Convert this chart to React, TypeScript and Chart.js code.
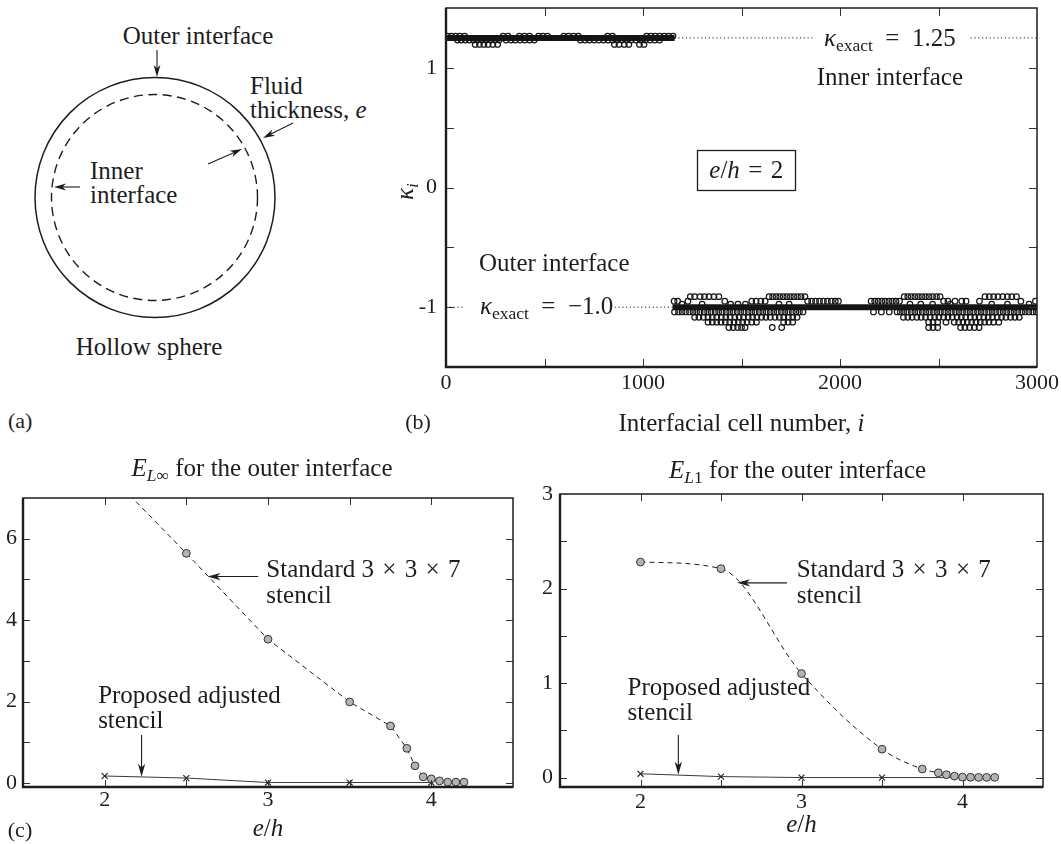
import React, { useEffect, useRef } from "react";
import { Chart, registerables } from "chart.js";

Chart.register(...registerables);

const SERIF = '"Liberation Serif", "Times New Roman", serif';
const INK = "#1d1d1d";
const TXT = 25;
const TICK = 22;

// ---------------- panel (b): curvature per interfacial cell ----------------
const bXTicks = [0, 500, 1000, 1500, 2000, 2500, 3000];
const bXLabels = ["0", "", "1000", "", "2000", "", "3000"];
const bYTicks = [-1, -0.5, 0, 0.5, 1];
const bYLabels = ["-1", "", "0", "", "1"];

const innerExact = 1.25;
const outerExact = -1.0;
const innerBandI = [0, 1160];
const outerBandI = [1150, 3000];
const innerRefSegs = [[1160, 1868], [2663, 3000]];
const outerRefSegs = [[0, 91], [856, 1150]];

const innerHighK = 1.265;
const innerHighI = [8, 28, 48, 70, 95, 290, 315, 372, 398, 424, 470, 492, 515, 598, 622, 648, 672, 820, 845, 1018, 1040, 1062, 1085, 1108, 1130, 1152];
const innerMidK = 1.232;
const innerMidI = [58, 78, 98, 118, 140, 160, 182, 204, 226, 248, 270, 305, 330, 352, 376, 400, 425, 448, 682, 705, 728, 752, 776, 800, 822, 846, 870, 893, 916, 940, 964, 988, 1012, 1036, 1060, 1084];
const innerLowK = 1.196;
const innerLowI = [148, 170, 192, 214, 238, 262, 855, 878, 905, 928, 982, 1005];

const outerTopK = -0.912;
const outerTopI = [1240, 1262, 1290, 1312, 1335, 1360, 1385, 1640, 1658, 1676, 1694, 1712, 1730, 1748, 1766, 1784, 1802, 1822, 2326, 2344, 2362, 2380, 2398, 2416, 2434, 2452, 2470, 2490, 2508, 2736, 2758, 2780, 2802, 2826, 2850, 2872, 2896];
const outerUpK = -0.95;
const outerUpI = [1158, 1176, 1228, 1415, 1552, 1574, 1598, 1620, 1836, 1856, 1876, 1896, 1916, 1936, 1956, 1976, 1992, 2158, 2176, 2194, 2212, 2230, 2248, 2266, 2284, 2302, 2526, 2548, 2584, 2618, 2640, 2708, 2918, 2992];
const outerNearK = -0.975;
const outerNearI = [1198, 1300, 1445, 1482, 1520, 1690, 1742, 2355, 2410, 2470, 2560, 2770, 2850, 2960];
const outerLow1K = -1.04;
const outerLow1I = [1160, 1180, 1198, 1216, 1236, 1254, 1272, 1290, 1310, 1328, 1346, 1366, 1384, 1402, 1422, 1440, 1458, 1478, 1496, 1514, 1534, 1552, 1570, 1590, 1608, 1626, 1646, 1664, 1682, 1702, 1720, 1738, 1758, 1776, 1794, 1812, 2170, 2210, 2250, 2290, 2306, 2324, 2342, 2362, 2380, 2398, 2418, 2436, 2454, 2474, 2492, 2510, 2530, 2548, 2566, 2586, 2604, 2622, 2642, 2660, 2678, 2698, 2716, 2734, 2754, 2772, 2790, 2810, 2828, 2846, 2866, 2884, 2902, 2922, 2940, 2958, 2978, 2996];
const outerLow2K = -1.085;
const outerLow2I = [1262, 1284, 1306, 1330, 1352, 1374, 1398, 1420, 1442, 1466, 1488, 1510, 1534, 1556, 1578, 1602, 1624, 1646, 1670, 1692, 1714, 1738, 1760, 1782, 2322, 2344, 2366, 2390, 2412, 2434, 2458, 2480, 2502, 2526, 2548, 2570, 2594, 2616, 2638, 2662, 2684, 2706, 2730, 2752, 2774, 2798, 2820, 2842, 2866, 2888, 2910];
const outerLow3K = -1.125;
const outerLow3I = [1330, 1352, 1374, 1396, 1418, 1440, 1462, 1484, 1506, 1528, 1552, 1576, 1714, 1736, 1760, 2450, 2472, 2496, 2538, 2580, 2602, 2624, 2646, 2668, 2690, 2712, 2734, 2756, 2780, 2806];
const outerLow4K = -1.17;
const outerLow4I = [1436, 1458, 1480, 1500, 1518, 1656, 1704, 2450, 2472, 2496, 2612, 2634, 2658, 2682, 2706];

// ---------------- panel (c): error norms vs e/h ----------------
const cXTicks = [2, 2.5, 3, 3.5, 4];
const cXLabels = ["2", "", "3", "", "4"];
const ehStandard = [2, 2.5, 3, 3.5, 3.75, 3.85, 3.9, 3.95, 4.0, 4.05, 4.1, 4.15, 4.2];
const ehAdjusted = [2, 2.5, 3, 3.5, 4];

const linfStandard = [7.7, 5.64, 3.53, 1.99, 1.4, 0.85, 0.42, 0.15, 0.1, 0.05, 0.02, 0.02, 0.02];
const linfAdjusted = [0.17, 0.12, 0.01, 0.01, 0.01];
const linfYTicks = [0, 1, 2, 3, 4, 5, 6];
const linfYLabels = ["0", "", "2", "", "4", "", "6"];

const l1Standard = [2.28, 2.21, 1.1, 0.3, 0.09, 0.05, 0.03, 0.015, 0.005, 0.003, 0.002, 0.002, 0.002];
const l1Adjusted = [0.04, 0.01, 0.0, 0.0, 0.0];
const l1YTicks = [0, 0.5, 1, 1.5, 2, 2.5, 3];
const l1YLabels = ["0", "", "1", "", "2", "", "3"];

// ---------------- helpers ----------------
type Run = { t: string; it?: boolean; sub?: boolean };

function runFont(r: Run, size: number) {
  return `${r.it ? "italic " : ""}${r.sub ? size * 0.7 : size}px ${SERIF}`;
}

function drawRuns(ctx: CanvasRenderingContext2D, runs: Run[], x: number, y: number, size: number, align: "left" | "center" | "right" = "left") {
  ctx.save();
  ctx.textBaseline = "alphabetic";
  ctx.textAlign = "left";
  ctx.fillStyle = INK;
  const ws = runs.map((r) => {
    ctx.font = runFont(r, size);
    return ctx.measureText(r.t).width;
  });
  const total = ws.reduce((a, b) => a + b, 0);
  let cx = align === "left" ? x : align === "center" ? x - total / 2 : x - total;
  const base = y + size * 0.32;
  runs.forEach((r, i) => {
    ctx.font = runFont(r, size);
    ctx.fillText(r.t, cx, r.sub ? base + size * 0.2 : base);
    cx += ws[i];
  });
  ctx.restore();
  return total;
}

function drawArrow(ctx: CanvasRenderingContext2D, x1: number, y1: number, x2: number, y2: number) {
  const dx = x2 - x1, dy = y2 - y1;
  const L = Math.hypot(dx, dy) || 1;
  const ux = dx / L, uy = dy / L, nx = -uy, ny = ux;
  const hl = 13, hw = 3.6;
  ctx.save();
  ctx.strokeStyle = INK;
  ctx.fillStyle = INK;
  ctx.lineWidth = 1.1;
  ctx.beginPath();
  ctx.moveTo(x1, y1);
  ctx.lineTo(x2 - ux * hl * 0.6, y2 - uy * hl * 0.6);
  ctx.stroke();
  ctx.beginPath();
  ctx.moveTo(x2, y2);
  ctx.lineTo(x2 - ux * hl + nx * hw, y2 - uy * hl + ny * hw);
  ctx.lineTo(x2 - ux * hl * 0.72, y2 - uy * hl * 0.72);
  ctx.lineTo(x2 - ux * hl - nx * hw, y2 - uy * hl - ny * hw);
  ctx.closePath();
  ctx.fill();
  ctx.restore();
}

const pts = (xs: number[], y: number) => xs.map((x) => ({ x, y }));
const zip = (xs: number[], ys: number[]) => xs.map((x, i) => ({ x, y: ys[i] }));

function zeroPad(s: any) {
  s.paddingLeft = 0;
  s.paddingRight = 0;
  s.paddingTop = 0;
  s.paddingBottom = 0;
}

function xAxis(min: number, max: number, ticks: number[], labels: string[], height: number, pad: number) {
  return {
    type: "linear",
    min,
    max,
    afterBuildTicks: (s: any) => {
      s.ticks = ticks.map((v) => ({ value: v }));
    },
    afterFit: (s: any) => {
      s.height = height;
      zeroPad(s);
    },
    grid: { display: false, drawTicks: false },
    border: { display: false },
    ticks: {
      autoSkip: false,
      maxRotation: 0,
      minRotation: 0,
      padding: pad,
      color: INK,
      font: { family: SERIF, size: TICK },
      callback: (v: any) => {
        const k = ticks.indexOf(Number(v));
        return k >= 0 ? labels[k] : "";
      },
    },
  };
}

function yAxis(min: number, max: number, ticks: number[], labels: string[], width: number, pad: number) {
  return {
    type: "linear",
    min,
    max,
    afterBuildTicks: (s: any) => {
      s.ticks = ticks.map((v) => ({ value: v }));
    },
    afterFit: (s: any) => {
      s.width = width;
      zeroPad(s);
    },
    grid: { display: false, drawTicks: false },
    border: { display: false },
    ticks: {
      autoSkip: false,
      padding: pad,
      color: INK,
      font: { family: SERIF, size: TICK },
      callback: (v: any) => {
        const k = ticks.indexOf(Number(v));
        return k >= 0 ? labels[k] : "";
      },
    },
  };
}

function framePlugin(tickLen: number, extra: (chart: any) => void) {
  return {
    id: "frameAndText",
    afterDatasetsDraw(chart: any) {
      const { ctx, chartArea: a, scales } = chart;
      const x = scales.x, y = scales.y;
      ctx.save();
      ctx.strokeStyle = "#333";
      ctx.lineWidth = 1;
      ctx.beginPath();
      x.ticks.forEach((t: any) => {
        if (t.value <= x.min || t.value >= x.max) return;
        const p = Math.round(x.getPixelForValue(t.value)) + 0.5;
        ctx.moveTo(p, a.top);
        ctx.lineTo(p, a.top + tickLen);
        ctx.moveTo(p, a.bottom);
        ctx.lineTo(p, a.bottom - tickLen);
      });
      y.ticks.forEach((t: any) => {
        if (t.value <= y.min || t.value >= y.max) return;
        const p = Math.round(y.getPixelForValue(t.value)) + 0.5;
        ctx.moveTo(a.left, p);
        ctx.lineTo(a.left + tickLen, p);
        ctx.moveTo(a.right, p);
        ctx.lineTo(a.right - tickLen, p);
      });
      ctx.stroke();
      ctx.strokeStyle = INK;
      ctx.lineWidth = 1.5;
      ctx.strokeRect(a.left, a.top, a.right - a.left, a.bottom - a.top);
      ctx.lineWidth = 2.4;
      ctx.beginPath();
      ctx.moveTo(a.left, a.top);
      ctx.lineTo(a.left, a.bottom);
      ctx.lineTo(a.right, a.bottom);
      ctx.stroke();
      ctx.restore();
      extra(chart);
    },
  };
}

const EQ = "\u2002=\u2002";
const EQS = "\u2004=\u2004";

function panelBConfig(): any {
  const circles = (xs: number[], k: number) => ({
    type: "scatter",
    data: pts(xs, k),
    pointRadius: 2.8,
    pointBorderWidth: 1.2,
    pointBorderColor: "#151515",
    pointBackgroundColor: "rgba(255,255,255,0)",
    showLine: false,
  });
  const band = (xs: number[], k: number) => ({
    type: "line",
    data: pts(xs, k),
    borderColor: "#151515",
    borderWidth: 6,
    pointRadius: 0,
    fill: false,
  });
  const ref = (seg: number[], k: number) => ({
    type: "line",
    data: pts(seg, k),
    borderColor: INK,
    borderWidth: 1,
    borderDash: [1.2, 2.6],
    pointRadius: 0,
    fill: false,
  });
  return {
    type: "scatter",
    data: {
      datasets: [
        circles(innerHighI, innerHighK),
        circles(innerMidI, innerMidK),
        circles(innerLowI, innerLowK),
        circles(outerTopI, outerTopK),
        circles(outerUpI, outerUpK),
        circles(outerNearI, outerNearK),
        circles(outerLow1I, outerLow1K),
        circles(outerLow2I, outerLow2K),
        circles(outerLow3I, outerLow3K),
        circles(outerLow4I, outerLow4K),
        band(innerBandI, innerExact),
        band(outerBandI, outerExact),
        ...innerRefSegs.map((s) => ref(s, innerExact)),
        ...outerRefSegs.map((s) => ref(s, outerExact)),
      ],
    },
    options: {
      responsive: false,
      animation: false,
      events: [],
      layout: { padding: { left: 0, top: 8, right: 24, bottom: 0 } },
      plugins: { legend: { display: false }, tooltip: { enabled: false } },
      scales: {
        x: xAxis(0, 3000, bXTicks, bXLabels, 73, 3),
        y: yAxis(-1.5, 1.5, bYTicks, bYLabels, 66, 9),
      },
    },
    plugins: [
      framePlugin(8, (chart: any) => {
        const { ctx, chartArea: a, scales } = chart;
        const x = scales.x, y = scales.y;
        drawRuns(ctx, [{ t: "κ", it: true }, { t: "exact", sub: true }, { t: EQ + "1.25" }], x.getPixelForValue(2253), y.getPixelForValue(innerExact), TXT, "center");
        drawRuns(ctx, [{ t: "Inner interface" }], x.getPixelForValue(2253), y.getPixelForValue(0.92), TXT, "center");
        drawRuns(ctx, [{ t: "Outer interface" }], x.getPixelForValue(167), y.getPixelForValue(-0.627), TXT, "left");
        drawRuns(ctx, [{ t: "κ", it: true }, { t: "exact", sub: true }, { t: EQ + "\u22121.0" }], x.getPixelForValue(172), y.getPixelForValue(-0.99), TXT, "left");
        // boxed e/h = 2
        const bx = x.getPixelForValue(1524), by = y.getPixelForValue(0.15);
        const w = drawRuns(ctx, [{ t: "e", it: true }, { t: "/" }, { t: "h", it: true }, { t: EQS + "2" }], bx, by, TXT, "center");
        ctx.save();
        ctx.strokeStyle = INK;
        ctx.lineWidth = 1.3;
        const bw = w + 24, bh = 40;
        ctx.strokeRect(Math.round(bx - bw / 2) + 0.5, Math.round(by - bh / 2) + 0.5, Math.round(bw), bh);
        ctx.restore();
        // axis titles
        ctx.save();
        ctx.translate(25, (a.top + a.bottom) / 2 + 4);
        ctx.rotate(-Math.PI / 2);
        drawRuns(ctx, [{ t: "κ", it: true }, { t: "i", it: true, sub: true }], 0, 0, TXT, "center");
        ctx.restore();
        drawRuns(ctx, [{ t: "Interfacial cell number, " }, { t: "i", it: true }], (a.left + a.right) / 2, a.bottom + 56, TXT, "center");
        drawRuns(ctx, [{ t: "(b)" }], 38, a.bottom + 55, 22, "center");
      }),
    ],
  };
}

type Notes = {
  std: [number, number, number];
  stdArrow: [number, number, number, number];
  prop: [number, number, number];
  propArrow: [number, number, number, number];
  title: Run[];
  titleDx: number;
  titleDy: number;
  ehDy: number;
  tag?: string;
  smooth: boolean;
};

function panelCConfig(stdY: number[], adjY: number[], yMax: number, yTicks: number[], yLabels: string[], geom: { top: number; right: number; yW: number; yPad: number; xPad: number }, notes: Notes): any {
  const stdSet: any = {
    data: zip(ehStandard, stdY),
    showLine: true,
    borderColor: INK,
    borderWidth: 1,
    borderDash: [5, 4],
    pointRadius: 3.9,
    pointBorderWidth: 1,
    pointBorderColor: "#333",
    pointBackgroundColor: "#b3b3b3",
  };
  if (notes.smooth) stdSet.cubicInterpolationMode = "monotone";
  return {
    type: "scatter",
    data: {
      datasets: [
        stdSet,
        {
          data: zip(ehAdjusted, adjY),
          showLine: true,
          borderColor: "#3a3a3a",
          borderWidth: 1,
          pointStyle: "crossRot",
          pointRadius: 4.2,
          pointBorderWidth: 1.1,
          pointBorderColor: INK,
        },
      ],
    },
    options: {
      responsive: false,
      animation: false,
      events: [],
      layout: { padding: { left: 0, top: geom.top, right: geom.right, bottom: 0 } },
      plugins: { legend: { display: false }, tooltip: { enabled: false } },
      scales: {
        x: xAxis(1.5, 4.5, cXTicks, cXLabels, 57, geom.xPad),
        y: yAxis(-0.1, yMax, yTicks, yLabels, geom.yW, geom.yPad),
      },
    },
    plugins: [
      framePlugin(7, (chart: any) => {
        const { ctx, chartArea: a, scales } = chart;
        const x = scales.x, y = scales.y;
        const [sx, sy1, sy2] = notes.std;
        drawRuns(ctx, [{ t: "Standard 3\u2004×\u20043\u2004×\u20047" }], x.getPixelForValue(sx), y.getPixelForValue(sy1), TXT, "left");
        drawRuns(ctx, [{ t: "stencil" }], x.getPixelForValue(sx), y.getPixelForValue(sy2), TXT, "left");
        const [px, py1, py2] = notes.prop;
        drawRuns(ctx, [{ t: "Proposed adjusted" }], x.getPixelForValue(px), y.getPixelForValue(py1), TXT, "left");
        drawRuns(ctx, [{ t: "stencil" }], x.getPixelForValue(px), y.getPixelForValue(py2), TXT, "left");
        const s = notes.stdArrow;
        drawArrow(ctx, x.getPixelForValue(s[0]), y.getPixelForValue(s[1]), x.getPixelForValue(s[2]), y.getPixelForValue(s[3]));
        const p = notes.propArrow;
        drawArrow(ctx, x.getPixelForValue(p[0]), y.getPixelForValue(p[1]), x.getPixelForValue(p[2]), y.getPixelForValue(p[3]));
        drawRuns(ctx, notes.title, (a.left + a.right) / 2 + notes.titleDx, a.top + notes.titleDy, TXT, "center");
        drawRuns(ctx, [{ t: "e", it: true }, { t: "/" }, { t: "h", it: true }], (a.left + a.right) / 2, a.bottom + notes.ehDy, TXT, "center");
        if (notes.tag) drawRuns(ctx, [{ t: notes.tag }], 20, a.bottom + 43, 22, "center");
      }),
    ],
  };
}

function Arrow({ x1, y1, x2, y2 }: { x1: number; y1: number; x2: number; y2: number }) {
  const dx = x2 - x1, dy = y2 - y1;
  const L = Math.hypot(dx, dy) || 1;
  const ux = dx / L, uy = dy / L, nx = -uy, ny = ux;
  const hl = 12, hw = 3.4;
  const pts2 = [
    [x2, y2],
    [x2 - ux * hl + nx * hw, y2 - uy * hl + ny * hw],
    [x2 - ux * hl * 0.72, y2 - uy * hl * 0.72],
    [x2 - ux * hl - nx * hw, y2 - uy * hl - ny * hw],
  ]
    .map((q) => q.join(","))
    .join(" ");
  return (
    <g>
      <line x1={x1} y1={y1} x2={x2 - ux * hl * 0.6} y2={y2 - uy * hl * 0.6} stroke={INK} strokeWidth={1.1} />
      <polygon points={pts2} fill={INK} />
    </g>
  );
}

function PanelA() {
  const base = TXT * 0.32;
  return (
    <svg width={380} height={440} style={{ position: "absolute", left: 0, top: 0 }} fontFamily={SERIF} fontSize={TXT} fill={INK}>
      <circle cx={155} cy={197.5} r={120} fill="none" stroke={INK} strokeWidth={1.5} />
      <circle cx={154.5} cy={197.5} r={103} fill="none" stroke={INK} strokeWidth={1.4} strokeDasharray="9 5.5" />
      <Arrow x1={157} y1={50} x2={157} y2={77} />
      <Arrow x1={293} y1={123} x2={263} y2={138} />
      <Arrow x1={208} y1={164} x2={242} y2={149} />
      <Arrow x1={80} y1={187} x2={54} y2={187} />
      <text x={198} y={36 + base} textAnchor="middle">Outer interface</text>
      <text x={250} y={86 + base}>Fluid</text>
      <text x={250} y={110 + base}>
        thickness, <tspan fontStyle="italic">e</tspan>
      </text>
      <text x={90} y={171 + base}>Inner</text>
      <text x={90} y={195 + base}>interface</text>
      <text x={149} y={347 + base} textAnchor="middle">Hollow sphere</text>
      <text x={8} y={421 + 22 * 0.32} fontSize={22}>(a)</text>
    </svg>
  );
}

export default function App() {
  const bRef = useRef<HTMLCanvasElement>(null);
  const cLRef = useRef<HTMLCanvasElement>(null);
  const cRRef = useRef<HTMLCanvasElement>(null);

  useEffect(() => {
    const charts: Chart[] = [];
    if (bRef.current) charts.push(new Chart(bRef.current, panelBConfig()));
    if (cLRef.current)
      charts.push(
        new Chart(
          cLRef.current,
          panelCConfig(linfStandard, linfAdjusted, 7, linfYTicks, linfYLabels, { top: 58, right: 27, yW: 23, yPad: 6, xPad: 0 }, {
            std: [2.99, 5.25, 4.61],
            stdArrow: [2.94, 5.07, 2.63, 5.07],
            prop: [1.96, 2.16, 1.54],
            propArrow: [2.226, 1.18, 2.226, 0.15],
            title: [{ t: "E", it: true }, { t: "L", it: true, sub: true }, { t: "∞", sub: true }, { t: " for the outer interface" }],
            titleDx: -6,
            titleDy: -30,
            ehDy: 41,
            tag: "(c)",
            smooth: false,
          })
        )
      );
    if (cRRef.current)
      charts.push(
        new Chart(
          cRRef.current,
          panelCConfig(l1Standard, l1Adjusted, 3, l1YTicks, l1YLabels, { top: 54, right: 18, yW: 20, yPad: 7, xPad: 2 }, {
            std: [2.97, 2.21, 1.93],
            stdArrow: [2.91, 2.06, 2.6, 2.06],
            prop: [1.92, 0.96, 0.69],
            propArrow: [2.235, 0.45, 2.235, 0.03],
            title: [{ t: "E", it: true }, { t: "L", it: true, sub: true }, { t: "1", sub: true }, { t: " for the outer interface" }],
            titleDx: -4,
            titleDy: -24,
            ehDy: 37,
            smooth: true,
          })
        )
      );
    return () => charts.forEach((c) => c.destroy());
  }, []);

  return (
    <div style={{ position: "absolute", left: 0, top: 0, width: 1061, height: 844, background: "#fff", overflow: "hidden" }}>
      <PanelA />
      <canvas ref={bRef} width={681} height={440} style={{ position: "absolute", left: 380, top: 0, width: 681, height: 440 }} />
      <canvas ref={cLRef} width={540} height={404} style={{ position: "absolute", left: 0, top: 440, width: 540, height: 404 }} />
      <canvas ref={cRRef} width={521} height={404} style={{ position: "absolute", left: 540, top: 440, width: 521, height: 404 }} />
    </div>
  );
}
